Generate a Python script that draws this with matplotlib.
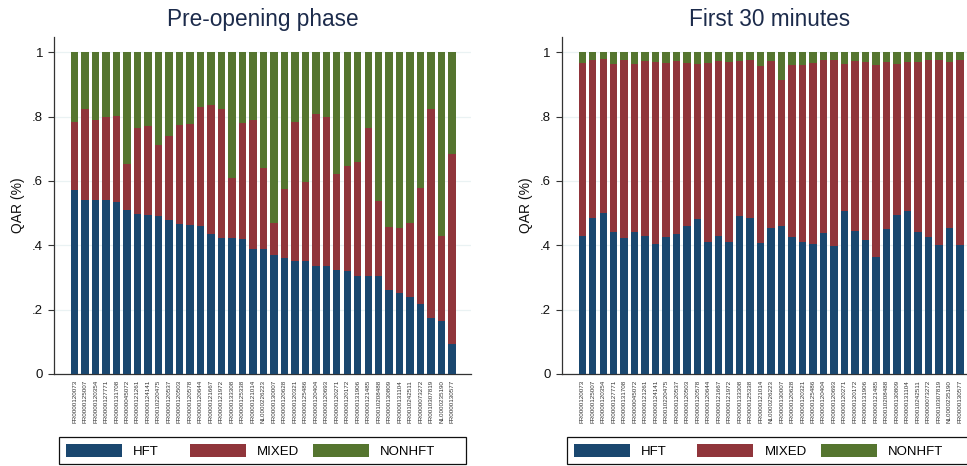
import matplotlib
matplotlib.use("Agg")
import matplotlib.pyplot as plt
from matplotlib.patches import Patch, Rectangle
import numpy as np

plt.rcParams['font.family'] = ['Liberation Sans', 'DejaVu Sans']

tickers = ["FR0000120073", "FR0000125007", "FR0000120354", "FR0000127771", "FR0000131708",
           "FR0000045072", "FR0000121261", "FR0000124141", "FR0010220475", "FR0000120537",
           "FR0000120503", "FR0000120578", "FR0000120644", "FR0000121667", "FR0000121972",
           "FR0000133308", "FR0000125338", "FR0000121014", "NL0000226223", "FR0000130007",
           "FR0000120628", "FR0000120321", "FR0000125486", "FR0000120404", "FR0000120693",
           "FR0000120271", "FR0000120172", "FR0000131906", "FR0000121485", "FR0010208488",
           "FR0000130809", "FR0000131104", "FR0010242511", "FR0000073272", "FR0010307819",
           "NL0000235190", "FR0000130577"]

series_names = ["HFT", "MIXED", "NONHFT"]
colors = ["#1a476f", "#90353b", "#55752f"]

pre_hft = [0.572, 0.542, 0.542, 0.541, 0.533, 0.511, 0.496, 0.493, 0.492, 0.480,
           0.467, 0.462, 0.461, 0.436, 0.422, 0.421, 0.418, 0.388, 0.387, 0.370,
           0.359, 0.352, 0.352, 0.337, 0.337, 0.323, 0.319, 0.306, 0.304, 0.303,
           0.260, 0.251, 0.240, 0.218, 0.173, 0.166, 0.094]
pre_mixed = [0.210, 0.281, 0.248, 0.256, 0.268, 0.141, 0.269, 0.278, 0.218, 0.260,
             0.306, 0.316, 0.367, 0.399, 0.402, 0.189, 0.361, 0.401, 0.254, 0.099,
             0.217, 0.432, 0.246, 0.472, 0.462, 0.297, 0.328, 0.352, 0.459, 0.236,
             0.198, 0.202, 0.229, 0.359, 0.651, 0.264, 0.591]
pre_nonhft = [0.218, 0.177, 0.210, 0.203, 0.199, 0.348, 0.235, 0.229, 0.290, 0.260,
              0.227, 0.222, 0.172, 0.165, 0.176, 0.390, 0.221, 0.211, 0.359, 0.531,
              0.424, 0.216, 0.402, 0.191, 0.201, 0.380, 0.353, 0.342, 0.237, 0.461,
              0.542, 0.547, 0.531, 0.423, 0.176, 0.570, 0.315]

f30_hft = [0.430, 0.486, 0.499, 0.440, 0.424, 0.440, 0.429, 0.403, 0.426, 0.434,
           0.460, 0.483, 0.410, 0.428, 0.410, 0.491, 0.484, 0.406, 0.455, 0.460,
           0.427, 0.411, 0.405, 0.439, 0.398, 0.505, 0.445, 0.415, 0.363, 0.449,
           0.494, 0.507, 0.441, 0.425, 0.402, 0.453, 0.401]
f30_mixed = [0.536, 0.490, 0.479, 0.522, 0.551, 0.524, 0.542, 0.565, 0.539, 0.537,
             0.505, 0.480, 0.557, 0.545, 0.558, 0.480, 0.491, 0.550, 0.517, 0.452,
             0.533, 0.548, 0.561, 0.538, 0.577, 0.458, 0.526, 0.554, 0.597, 0.519,
             0.470, 0.461, 0.527, 0.550, 0.574, 0.516, 0.574]
f30_nonhft = [0.034, 0.024, 0.022, 0.038, 0.025, 0.036, 0.029, 0.032, 0.035, 0.029,
              0.035, 0.037, 0.033, 0.027, 0.032, 0.029, 0.025, 0.044, 0.028, 0.088,
              0.040, 0.041, 0.034, 0.023, 0.025, 0.037, 0.029, 0.031, 0.040, 0.032,
              0.036, 0.032, 0.032, 0.025, 0.024, 0.031, 0.025]

titles = ["Pre-opening phase", "First 30 minutes"]
panels = [(pre_hft, pre_mixed, pre_nonhft), (f30_hft, f30_mixed, f30_nonhft)]
yticks = [0, 0.2, 0.4, 0.6, 0.8, 1.0]
ytick_labels = ["0", ".2", ".4", ".6", ".8", "1"]

W, H = 967, 466
fig = plt.figure(figsize=(W / 100, H / 100), dpi=100)
fig.patch.set_facecolor("white")

ax_left_px = [54, 561.7]
ax_w_px = 416.7
ax_bottom_px, ax_top_px = 374, 37

for k, (title, data) in enumerate(zip(titles, panels)):
    ax = fig.add_axes([ax_left_px[k] / W, (H - ax_bottom_px) / H,
                       ax_w_px / W, (ax_bottom_px - ax_top_px) / H])
    x = np.arange(len(tickers))
    bottom = np.zeros(len(tickers))
    for vals, c, name in zip(data, colors, series_names):
        v = np.array(vals)
        ax.bar(x, v, bottom=bottom, width=0.71, color=c, linewidth=0, label=name, zorder=3)
        bottom += v
    ax.set_xlim(-1.96, len(tickers) - 1 + 1.77)
    ax.set_ylim(0, 1.047)
    ax.set_yticks(yticks)
    ax.set_yticklabels(ytick_labels, fontsize=9.5, color="#111111")
    ax.set_xticks(x)
    ax.set_xticklabels(tickers, rotation=90, fontsize=4.5, color="#333333")
    ax.tick_params(axis="x", length=0, pad=4.3)
    ax.tick_params(axis="y", length=4.3, width=0.8, color="#333333", pad=3.5)
    for s in ["top", "right"]:
        ax.spines[s].set_visible(False)
    for s in ["left", "bottom"]:
        ax.spines[s].set_color("#333333")
        ax.spines[s].set_linewidth(0.9)
    ax.yaxis.grid(True, color="#eaf2f3", linewidth=0.9, zorder=0)
    ax.set_axisbelow(True)
    ax.set_ylabel("QAR (%)", fontsize=10, color="#111111", labelpad=5)
    ax.set_title(title, fontsize=16.3, color="#1c2b4b", pad=8)

    # legend: frame box + equally spaced entries (Stata style)
    box_left = ax_left_px[k] + 5
    fig.add_artist(Rectangle((box_left / W, (H - 464) / H), 407 / W, 27 / H,
                             transform=fig.transFigure, facecolor="white",
                             edgecolor="#111111", linewidth=0.9))
    for i, (c, name) in enumerate(zip(colors, series_names)):
        lg = fig.legend([Patch(facecolor=c, edgecolor="none")], [name],
                        loc="center left",
                        bbox_to_anchor=((box_left + 7 + i * 123.5) / W, (H - 451) / H),
                        bbox_transform=fig.transFigure, frameon=False,
                        fontsize=9.5, handlelength=4.25, handleheight=1.2,
                        handletextpad=0.85, borderpad=0, borderaxespad=0)

fig.savefig("out.png", dpi=100, facecolor="white")
